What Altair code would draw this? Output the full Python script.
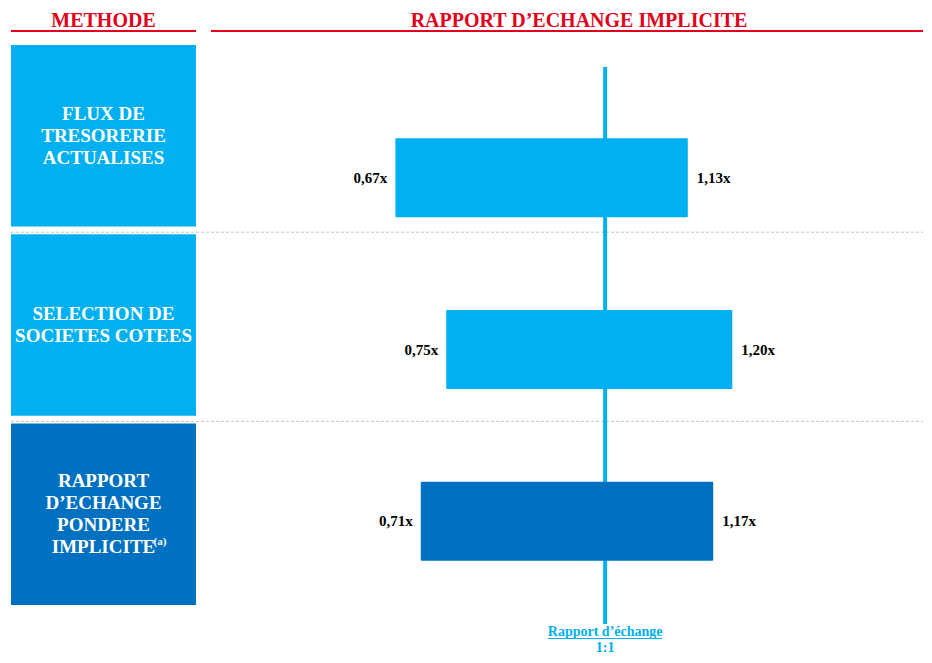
import altair as alt
import pandas as pd

# ---- data ----
methods = ["FLUX DE TRESORERIE ACTUALISES", "SELECTION DE SOCIETES COTEES",
           "RAPPORT D'ECHANGE PONDERE IMPLICITE"]
box_text = ["FLUX DE\nTRESORERIE\nACTUALISES",
            "SELECTION DE\nSOCIETES COTEES",
            "RAPPORT\nD\u2019ECHANGE\nPONDERE\nIMPLICITE"]
box_note = ["", "", "(a)"]
low = [0.67, 0.75, 0.71]
high = [1.13, 1.20, 1.17]
parity = [1.0]
header_left = ["METHODE"]
header_right = ["RAPPORT D\u2019ECHANGE IMPLICITE"]
parity_label = ["Rapport d\u2019\u00e9change"]
parity_ratio = ["1:1"]


def fr(v):
    return f"{v:.2f}".replace(".", ",") + "x"


LIGHT = "#00B0F0"
DARK = "#0070C0"
RED = "#E2001A"
SERIF = "Liberation Serif"
W_L, W_R, H = 185, 712, 645
LINE_H = 22

left_df = pd.DataFrame({"method": methods, "text": box_text, "note": box_note})
right_df = pd.DataFrame({"method": methods, "low": low, "high": high,
                         "low_lbl": [fr(v) for v in low],
                         "high_lbl": [fr(v) for v in high]})
par_df = pd.DataFrame({"parity": parity, "lbl": parity_label, "ratio": parity_ratio})

color = alt.Color("method:N", scale=alt.Scale(domain=methods, range=[LIGHT, LIGHT, DARK]),
                  legend=None)

# ---- left panel ----
yL_scale = alt.Scale(domain=methods, range=[37, 597], paddingInner=0.04, paddingOuter=0)
yL = alt.Y("method:N", sort=methods, axis=None, scale=yL_scale)

dashed = alt.Chart(left_df.iloc[1:]).mark_rule(
    strokeDash=[3, 2], color="#C4C4C4", strokeWidth=1, yOffset=-2
).encode(x=alt.value(0), x2=alt.value(912),
         y=alt.Y("method:N", axis=None, scale=yL_scale, bandPosition=0))

boxes = alt.Chart(left_df).mark_rect().encode(
    x=alt.value(0), x2=alt.value(W_L), y=yL, color=color)

text_layers = []
for m, t, note in zip(methods, box_text, box_note):
    n = t.count("\n") + 1
    shift = -(n - 1) * LINE_H / 2
    text_layers.append(
        alt.Chart(left_df).transform_filter(alt.datum.method == m).mark_text(
            font=SERIF, fontWeight="bold", fontSize=19, color="white", lineBreak="\n",
            lineHeight=LINE_H, align="center", baseline="middle", dy=shift
        ).encode(x=alt.value(W_L / 2), y=yL, text="text:N")
    )
    if note:
        text_layers.append(
            alt.Chart(left_df).transform_filter(alt.datum.method == m).mark_text(
                font=SERIF, fontWeight="bold", fontSize=11, color="white",
                align="left", baseline="middle", dx=50, dy=-shift - 5
            ).encode(x=alt.value(W_L / 2), y=yL, text="note:N")
        )

hl = alt.Chart(pd.DataFrame({"t": header_left})).mark_text(
    font=SERIF, fontWeight="bold", fontSize=20, color=RED, align="center", baseline="middle"
).encode(x=alt.value(W_L / 2), y=alt.value(13), text="t:N")
hl_rule = alt.Chart(pd.DataFrame({"t": header_left})).mark_rule(
    color=RED, strokeWidth=2).encode(x=alt.value(0), x2=alt.value(W_L), y=alt.value(23))

left = alt.layer(dashed, boxes, *text_layers, hl, hl_rule).properties(width=W_L, height=H)

# ---- right panel ----
x_scale = alt.Scale(domain=[0.38, 1.50], nice=False, zero=False)
yR = alt.Y("method:N", sort=methods, axis=None,
           scale=alt.Scale(domain=methods, range=[84, 599], paddingInner=0, paddingOuter=0))

vline = alt.Chart(par_df).mark_rule(color=LIGHT, strokeWidth=4).encode(
    x=alt.X("parity:Q", scale=x_scale, axis=None), y=alt.value(59), y2=alt.value(616))

bars = alt.Chart(right_df).mark_bar(size=79, cornerRadius=1).encode(
    x=alt.X("low:Q", scale=x_scale, axis=None), x2="high:Q", y=yR, color=color)

lbl_low = alt.Chart(right_df).mark_text(
    font=SERIF, fontWeight="bold", fontSize=15, color="black", align="right",
    baseline="middle", dx=-8
).encode(x=alt.X("low:Q", scale=x_scale, axis=None), y=yR, text="low_lbl:N")

lbl_high = alt.Chart(right_df).mark_text(
    font=SERIF, fontWeight="bold", fontSize=15, color="black", align="left",
    baseline="middle", dx=9
).encode(x=alt.X("high:Q", scale=x_scale, axis=None), y=yR, text="high_lbl:N")

par_lbl = alt.Chart(par_df).mark_text(
    font=SERIF, fontWeight="bold", fontSize=14, color=LIGHT, align="center",
    baseline="alphabetic"
).encode(x=alt.X("parity:Q", scale=x_scale, axis=None), y=alt.value(628), text="lbl:N")

par_ul = alt.Chart(par_df).mark_rule(
    color=LIGHT, strokeWidth=1, xOffset=-57, x2Offset=57
).encode(x=alt.X("parity:Q", scale=x_scale, axis=None), x2="parity:Q", y=alt.value(630.5))

par_ratio = alt.Chart(par_df).mark_text(
    font=SERIF, fontWeight="bold", fontSize=14, color=LIGHT, align="center",
    baseline="alphabetic"
).encode(x=alt.X("parity:Q", scale=x_scale, axis=None), y=alt.value(644), text="ratio:N")

hr = alt.Chart(pd.DataFrame({"t": header_right})).mark_text(
    font=SERIF, fontWeight="bold", fontSize=20, color=RED, align="center", baseline="middle"
).encode(x=alt.value(368), y=alt.value(13), text="t:N")
hr_rule = alt.Chart(pd.DataFrame({"t": header_right})).mark_rule(
    color=RED, strokeWidth=2).encode(x=alt.value(0), x2=alt.value(W_R), y=alt.value(23))

right = alt.layer(vline, bars, lbl_low, lbl_high, par_lbl, par_ul, par_ratio, hr, hr_rule
                  ).properties(width=W_R, height=H)

chart = alt.hconcat(left, right, spacing=15, bounds="flush").resolve_scale(
    x="independent", y="independent"
).properties(
    padding={"left": 2, "top": 0, "right": 0, "bottom": 0}
).configure_view(stroke=None)

chart.save("out.html", embed_options={"renderer": "svg", "actions": False})
